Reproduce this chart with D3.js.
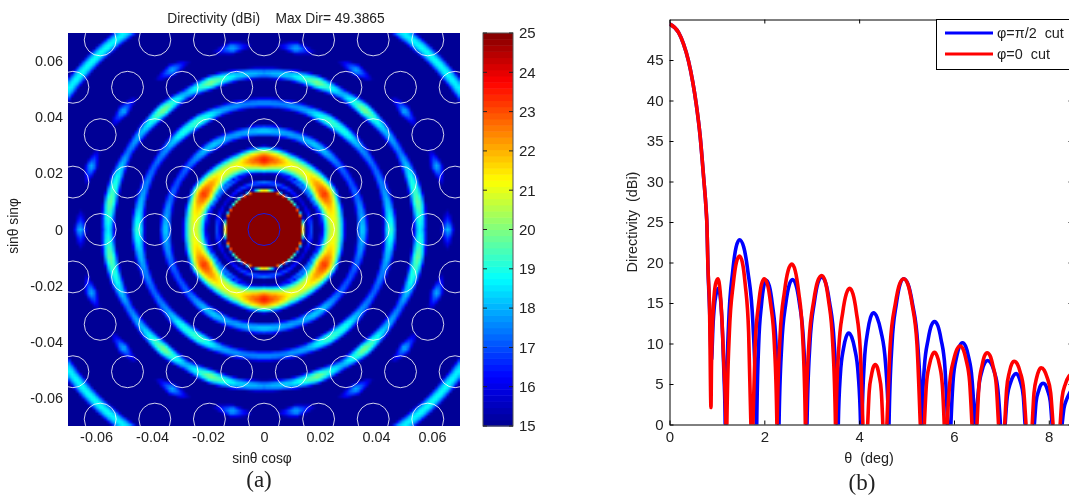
<!DOCTYPE html>
<html>
<head>
<meta charset="utf-8">
<script src="https://cdn.jsdelivr.net/npm/d3@7"></script>
<style>
  html, body { margin: 0; padding: 0; background: #fff; overflow: hidden; }
  #chart { position: relative; width: 1069px; height: 496px; overflow: hidden; }
  #chart canvas { position: absolute; left: 68px; top: 33px; }
  #chart svg { position: absolute; left: 0; top: 0; }
  text { font-family: "Liberation Sans", Arial, sans-serif; fill: #222; white-space: pre; }
</style>
</head>
<body>
<div id="chart"></div>
<script>
// Panel (a): rings of the directivity map
// one ring per entry, levels are dBi at each angle station (first quadrant, mirrored to the others)
const angleStations = [0, 10, 20, 30, 40, 50, 60, 70, 80, 90];
const ringRadius = [0.0168, 0.0204, 0.0250, 0.0354, 0.0454, 0.0561, 0.0661, 0.0864];
const ringSpread = [0.0008, 0.0008, 0.0018, 0.0013, 0.0013, 0.0013, 0.0014, 0.0015];
const ringLevels1 = [17.0, 17.0, 16.5, 16.0, 16.0, 16.5, 16.8, 17.0, 17.2, 17.5];
const ringLevels2 = [15.5, 16.0, 16.5, 17.5, 17.5, 17.5, 17.0, 16.0, 15.0, 14.5];
const ringLevels3 = [21.0, 21.2, 22.0, 23.3, 22.3, 21.3, 21.0, 21.3, 22.6, 23.5];
const ringLevels4 = [18.3, 17.8, 17.3, 17.0, 17.3, 18.0, 18.3, 17.8, 18.0, 18.3];
const ringLevels5 = [19.3, 18.3, 17.6, 17.2, 17.8, 19.0, 19.4, 18.0, 17.6, 17.6];
const ringLevels6 = [18.6, 19.8, 18.8, 17.4, 18.3, 20.0, 18.0, 20.0, 18.4, 17.8];
const ringLevels7 = [18.0, 13.5, 18.0, 13.5, 18.0, 13.5, 18.0, 13.5, 18.0, 13.5];
const ringLevels8 = [18.2, 18.2, 18.2, 18.4, 18.8, 18.8, 18.4, 18.2, 18.2, 18.2];
const ringLevels = [ringLevels1, ringLevels2, ringLevels3, ringLevels4, ringLevels5, ringLevels6, ringLevels7, ringLevels8];

// feed circles: lattice rows and columns, in pitch units
const feedRows = [-4, -3, -2, -1, 0, 1, 2, 3, 4];
const feedCols = [-4, -3, -2, -1, 0, 1, 2, 3, 4];
const mapTicks = [-0.06, -0.04, -0.02, 0, 0.02, 0.04, 0.06];
const barTicks = [15, 16, 17, 18, 19, 20, 21, 22, 23, 24, 25];

// Panel (b): cuts
const mainTheta = [0, 0.19, 0.295, 0.40, 0.49, 0.563, 0.648, 0.72, 0.774, 0.79, 0.81, 0.845];
const mainDir = [49.45, 48.4, 47.0, 44.9, 42.3, 39.6, 35.5, 30.5, 26.4, 24.6, 19.6, 14.3];

const blueTheta = [0.885, 0.92, 0.96, 1.03, 1.08, 1.12, 1.15, 1.175, 1.182,
  1.19, 1.247, 1.333, 1.405, 1.477, 1.565, 1.653, 1.759, 1.83, 1.835,
  1.84, 1.88, 1.94, 1.99, 2.04, 2.105, 2.17, 2.248, 2.30, 2.305,
  2.31, 2.367, 2.452, 2.524, 2.595, 2.669, 2.742, 2.831, 2.89, 2.895,
  2.90, 2.962, 3.055, 3.132, 3.21, 3.292, 3.375, 3.474, 3.54, 3.55,
  3.56, 3.604, 3.67, 3.725, 3.78, 3.842, 3.905, 3.98, 4.03, 4.045,
  4.06, 4.108, 4.18, 4.24, 4.30, 4.38, 4.46, 4.556, 4.62, 4.625,
  4.63, 4.692, 4.785, 4.862, 4.94, 5.033, 5.125, 5.236, 5.31, 5.315,
  5.32, 5.374, 5.455, 5.522, 5.59, 5.659, 5.728, 5.81, 5.865, 5.9,
  5.935, 5.984, 6.058, 6.119, 6.18, 6.243, 6.305, 6.38, 6.43, 6.45,
  6.47, 6.518, 6.59, 6.65, 6.71, 6.778, 6.845, 6.926, 6.98, 7.03,
  7.08, 7.126, 7.195, 7.253, 7.31, 7.358, 7.405, 7.462, 7.50, 7.6,
  7.695, 7.732, 7.788, 7.834, 7.88, 7.928, 7.975, 8.032, 8.07, 8.17,
  8.28, 8.32, 8.37, 8.43, 8.5];
const blueDir = [8, 12.5, 15.3, 16.8, 15.2, 11, 6, 0, -5,
  0, 12.5, 18.9, 21.9, 22.8, 21.9, 18.9, 12.5, 0, -6,
  0, 9.8, 14.8, 17.1, 17.8, 17.1, 14.8, 9.8, 0, -6,
  0, 9.8, 14.9, 17.2, 17.9, 17.2, 14.9, 9.8, 0, -6,
  0, 10, 15.1, 17.5, 18.2, 17.5, 15.1, 10, 0, -6,
  0, 6.2, 9.4, 10.8, 11.3, 10.8, 9.4, 6.2, 0, -6,
  0, 7.6, 11.5, 13.2, 13.8, 13.2, 11.5, 7.6, 0, -6,
  0, 9.9, 14.9, 17.3, 18, 17.3, 14.9, 9.9, 0, -6,
  0, 7, 10.5, 12.2, 12.7, 12.2, 10.5, 7, 0, -6,
  0, 5.6, 8.4, 9.7, 10.1, 9.7, 8.4, 5.6, 0, -6,
  0, 4.3, 6.6, 7.6, 7.9, 7.6, 6.6, 4.3, 0, -6,
  0, 3.5, 5.2, 6, 6.3, 6, 5.2, 3.5, 0, -6,
  0, 2.8, 4.2, 4.9, 5.1, 4.9, 4.2, 2.8, 0, -6,
  0, 2, 3, 3.8, 4.4];

const redTheta = [0.875, 0.885, 0.90, 0.93, 0.97, 1.02, 1.07, 1.11, 1.15, 1.19, 1.2,
  1.21, 1.263, 1.344, 1.41, 1.477, 1.537, 1.597, 1.669, 1.717, 1.735,
  1.76, 1.808, 1.88, 1.94, 2.0, 2.066, 2.133, 2.212, 2.265, 2.268,
  2.27, 2.332, 2.425, 2.503, 2.58, 2.651, 2.723, 2.808, 2.865, 2.87,
  2.875, 2.942, 3.043, 3.126, 3.21, 3.283, 3.355, 3.442, 3.50, 3.505,
  3.51, 3.568, 3.655, 3.728, 3.80, 3.87, 3.94, 4.024, 4.08, 4.13,
  4.18, 4.212, 4.26, 4.30, 4.34, 4.38, 4.42, 4.468, 4.50, 4.54,
  4.585, 4.656, 4.763, 4.851, 4.94, 5.028, 5.115, 5.22, 5.29, 5.33,
  5.375, 5.418, 5.483, 5.536, 5.59, 5.641, 5.693, 5.754, 5.795, 5.83,
  5.86, 5.914, 5.995, 6.063, 6.13, 6.193, 6.255, 6.33, 6.38, 6.43,
  6.485, 6.528, 6.593, 6.646, 6.70, 6.76, 6.82, 6.892, 6.94, 7.0,
  7.07, 7.11, 7.17, 7.22, 7.27, 7.333, 7.395, 7.47, 7.52, 7.59,
  7.65, 7.688, 7.745, 7.793, 7.84, 7.903, 7.965, 8.04, 8.09, 8.17,
  8.24, 8.28, 8.35, 8.43, 8.5];
const redDir = [2.1, 7, 11, 15, 17.3, 18, 16.3, 12.5, 7, 0, -5,
  0, 11.4, 17.3, 20, 20.8, 20, 17.3, 11.4, 0, -6,
  0, 9.9, 14.9, 17.3, 18, 17.3, 14.9, 9.9, 0, -6,
  0, 10.9, 16.4, 19, 19.8, 19, 16.4, 10.9, 0, -6,
  0, 10.1, 15.3, 17.7, 18.4, 17.7, 15.3, 10.1, 0, -6,
  0, 9.2, 13.9, 16.1, 16.8, 16.1, 13.9, 9.2, 0, -6,
  0, 4.1, 6.1, 7.1, 7.4, 7.1, 6.1, 4.1, 0, -6,
  0, 9.9, 14.9, 17.3, 18, 17.3, 14.9, 9.9, 0, -6,
  0, 4.9, 7.4, 8.5, 8.9, 8.5, 7.4, 4.9, 0, -6,
  0, 5.3, 8, 9.3, 9.7, 9.3, 8, 5.3, 0, -6,
  0, 4.9, 7.3, 8.5, 8.85, 8.5, 7.3, 4.9, 0, -6,
  0, 4.3, 6.5, 7.5, 7.8, 7.5, 6.5, 4.3, 0, -6,
  0, 3.9, 5.8, 6.7, 7, 6.7, 5.8, 3.9, 0, -6,
  0, 3.3, 5, 6, 6.3];

const cutThetaTicks = [0, 2, 4, 6, 8];
const cutDirTicks = [0, 5, 10, 15, 20, 25, 30, 35, 40, 45];

const svg = d3.select("#chart").append("svg")
  .attr("width", 1069)
  .attr("height", 496);

// ---------- panel (a) ----------
const map = { left: 68, right: 460, top: 33, bottom: 426 };
const x = d3.scaleLinear().domain([-0.07, 0.07]).range([map.left, map.right]);
const y = d3.scaleLinear().domain([-0.07, 0.07]).range([map.bottom, map.top]);

// jet colormap, 64 steps like the colorbar
const jetRamp = d3.scaleLinear()
  .domain([0, 0.125, 0.375, 0.625, 0.875, 1])
  .range(["#00008f", "#0000ff", "#00ffff", "#ffff00", "#ff0000", "#800000"]);
const jetColors = d3.range(64).map(i => jetRamp((i + 0.5) / 64));
const jet = d3.scaleQuantize().domain([15, 25]).range(jetColors);

const ringScales = ringLevels.map(l => d3.scaleLinear().domain(angleStations).range(l));
const mainLobe = d3.scaleLinear().domain(mainTheta.concat([0.875])).range(mainDir.concat([2.1])).clamp(true);

function directivityAt(u, v) {
  const r = Math.hypot(u, v);
  let a = Math.abs(Math.atan2(v, u)) * 180 / Math.PI;
  if (a > 90) a = 180 - a;
  let val = mainLobe(Math.asin(r) * 180 / Math.PI);
  ringRadius.forEach((r0, i) => {
    const d = (r - r0) / ringSpread[i];
    val = Math.max(val, ringScales[i](a) - d * d);
  });
  return val;
}

// map is sampled on a 0.001 grid and scaled up, the reference looks the same way
const gridN = 141;
const off = document.createElement("canvas");
off.width = gridN;
off.height = gridN;
const offCtx = off.getContext("2d");
const img = offCtx.createImageData(gridN, gridN);
for (let j = 0; j < gridN; j++) {
  for (let i = 0; i < gridN; i++) {
    const c = d3.rgb(jet(Math.min(25, directivityAt(-0.07 + i * 0.001, 0.07 - j * 0.001))));
    const k = (j * gridN + i) * 4;
    img.data[k] = c.r; img.data[k + 1] = c.g; img.data[k + 2] = c.b; img.data[k + 3] = 255;
  }
}
offCtx.putImageData(img, 0, 0);

const canvas = d3.select("#chart").insert("canvas", "svg")
  .attr("width", map.right - map.left)
  .attr("height", map.bottom - map.top)
  .node();
const ctx = canvas.getContext("2d");
ctx.imageSmoothingEnabled = true;
ctx.drawImage(off, 0, 0, canvas.width, canvas.height);

svg.append("clipPath").attr("id", "mapClip").append("rect")
  .attr("x", map.left).attr("y", map.top)
  .attr("width", map.right - map.left).attr("height", map.bottom - map.top);

// feed circles on a hexagonal lattice
const pitch = 0.0195;
const feeds = [];
feedRows.forEach(row => {
  feedCols.forEach(col => {
    const u = (col + (Math.abs(row) % 2 ? 0.5 : 0)) * pitch;
    feeds.push({ u, v: row * pitch * Math.sqrt(3) / 2, centre: row === 0 && col === 0 });
  });
});
svg.append("g").attr("clip-path", "url(#mapClip)")
  .selectAll("circle").data(feeds).join("circle")
  .attr("cx", d => x(d.u))
  .attr("cy", d => y(d.v))
  .attr("r", x(0.0057) - x(0))
  .attr("fill", "none")
  .attr("stroke", d => d.centre ? "#1a1ae6" : "#fff")
  .attr("stroke-opacity", d => d.centre ? 1 : 0.82)
  .attr("stroke-width", 1);

function tickFmt(d) {
  return d === 0 ? "0" : String(d);
}

const mapX = svg.append("g")
  .attr("transform", `translate(0, ${map.bottom})`)
  .call(d3.axisBottom(x).tickValues(mapTicks).tickSize(0).tickPadding(6).tickFormat(tickFmt));
const mapY = svg.append("g")
  .attr("transform", `translate(${map.left}, 0)`)
  .call(d3.axisLeft(y).tickValues(mapTicks).tickSize(0).tickPadding(5).tickFormat(tickFmt));
[mapX, mapY].forEach(g => {
  g.select(".domain").remove();
  g.selectAll("text").style("font-size", "14.4px").style("font-family", null).attr("fill", null);
});

svg.append("text")
  .attr("x", 276).attr("y", 23)
  .attr("text-anchor", "middle")
  .style("font-size", "13.8px")
  .text("Directivity (dBi)    Max Dir= 49.3865");

svg.append("text")
  .attr("x", 262).attr("y", 463)
  .attr("text-anchor", "middle")
  .style("font-size", "13.8px")
  .text("sinθ cosφ");

svg.append("text")
  .attr("transform", "translate(18, 226) rotate(-90)")
  .attr("text-anchor", "middle")
  .style("font-size", "13.8px")
  .text("sinθ sinφ");

svg.append("text")
  .attr("x", 259).attr("y", 487)
  .attr("text-anchor", "middle")
  .style("font-family", "'Liberation Serif', serif")
  .style("font-size", "23px")
  .text("(a)");

// colorbar
const bar = { left: 483, right: 513 };
const barY = d3.scaleLinear().domain([15, 25]).range([map.bottom, map.top]);
svg.append("g").selectAll("rect").data(jetColors).join("rect")
  .attr("x", bar.left)
  .attr("width", bar.right - bar.left)
  .attr("y", (d, i) => barY(15 + (i + 1) * 10 / 64))
  .attr("height", (map.bottom - map.top) / 64 + 0.5)
  .attr("fill", d => d);
svg.append("rect")
  .attr("x", bar.left).attr("y", map.top)
  .attr("width", bar.right - bar.left).attr("height", map.bottom - map.top)
  .attr("fill", "none").attr("stroke", "#555").attr("stroke-width", 1);

const barAxis = svg.append("g")
  .attr("transform", `translate(${bar.right}, 0)`)
  .call(d3.axisRight(barY).tickValues(barTicks).tickSize(0).tickPadding(6));
barAxis.select(".domain").remove();
barAxis.selectAll("text").style("font-size", "15px").style("font-family", null).attr("fill", null);
barTicks.forEach(t => {
  svg.append("line").attr("x1", bar.left).attr("x2", bar.left + 4)
    .attr("y1", barY(t)).attr("y2", barY(t)).attr("stroke", "#222");
  svg.append("line").attr("x1", bar.right - 4).attr("x2", bar.right)
    .attr("y1", barY(t)).attr("y2", barY(t)).attr("stroke", "#222");
});

// ---------- panel (b) ----------
const cut = { left: 669.5, top: 19.5, bottom: 424.5, right: 1072.5 };
const xCut = d3.scaleLinear().domain([0, 8.5]).range([cut.left, cut.right]);
const yCut = d3.scaleLinear().domain([0, 50]).range([cut.bottom, cut.top]);

svg.append("clipPath").attr("id", "cutClip").append("rect")
  .attr("x", cut.left).attr("y", cut.top)
  .attr("width", cut.right - cut.left).attr("height", cut.bottom - cut.top);

const line = d3.line()
  .x(d => xCut(d[0]))
  .y(d => yCut(d[1]))
  .curve(d3.curveMonotoneX);

function cutPoints(thetas, dirs) {
  return mainTheta.map((t, i) => [t, mainDir[i]]).concat(thetas.map((t, i) => [t, dirs[i]]));
}

const cutLines = svg.append("g").attr("clip-path", "url(#cutClip)");
cutLines.append("path")
  .datum(cutPoints(blueTheta, blueDir))
  .attr("fill", "none").attr("stroke", "#0000ff").attr("stroke-width", 3.6)
  .attr("d", line);
cutLines.append("path")
  .datum(cutPoints(redTheta, redDir))
  .attr("fill", "none").attr("stroke", "#ff0000").attr("stroke-width", 3.6)
  .attr("d", line);

// box with inward ticks on all four sides
const axisB = svg.append("g").attr("transform", `translate(0, ${cut.bottom})`)
  .call(d3.axisBottom(xCut).tickValues(cutThetaTicks).tickSize(-4).tickSizeOuter(0).tickPadding(7));
const axisL = svg.append("g").attr("transform", `translate(${cut.left}, 0)`)
  .call(d3.axisLeft(yCut).tickValues(cutDirTicks).tickSize(-4).tickSizeOuter(0).tickPadding(6));
const axisT = svg.append("g").attr("transform", `translate(0, ${cut.top})`)
  .call(d3.axisTop(xCut).tickValues(cutThetaTicks).tickSize(-4).tickSizeOuter(0).tickFormat(""));
const axisR = svg.append("g").attr("transform", `translate(${cut.right}, 0)`)
  .call(d3.axisRight(yCut).tickValues(cutDirTicks).tickSize(-4).tickSizeOuter(0).tickFormat(""));
[axisB, axisL, axisT, axisR].forEach(g => {
  g.selectAll("text").style("font-size", "15px").style("font-family", null).attr("fill", null);
});

svg.append("text")
  .attr("x", 869).attr("y", 463)
  .attr("text-anchor", "middle")
  .style("font-size", "14.4px")
  .text("θ  (deg)");

svg.append("text")
  .attr("transform", "translate(637, 222) rotate(-90)")
  .attr("text-anchor", "middle")
  .style("font-size", "14.4px")
  .text("Directivity  (dBi)");

svg.append("text")
  .attr("x", 862).attr("y", 490)
  .attr("text-anchor", "middle")
  .style("font-family", "'Liberation Serif', serif")
  .style("font-size", "23px")
  .text("(b)");

// legend, cut off by the right edge like in the reference
const legendLabels = ["φ=π/2  cut", "φ=0  cut"];
const legendColors = ["#0000ff", "#ff0000"];
svg.append("rect")
  .attr("x", 936.5).attr("y", cut.top)
  .attr("width", 140).attr("height", 50)
  .attr("fill", "#fff").attr("stroke", "#000").attr("stroke-width", 1);
legendLabels.forEach((label, i) => {
  const rowY = 33 + i * 21;
  svg.append("line")
    .attr("x1", 945).attr("x2", 993)
    .attr("y1", rowY).attr("y2", rowY)
    .attr("stroke", legendColors[i]).attr("stroke-width", 3);
  svg.append("text")
    .attr("x", 997).attr("y", rowY + 5)
    .style("font-size", "14.4px")
    .text(label);
});
</script>
</body>
</html>
